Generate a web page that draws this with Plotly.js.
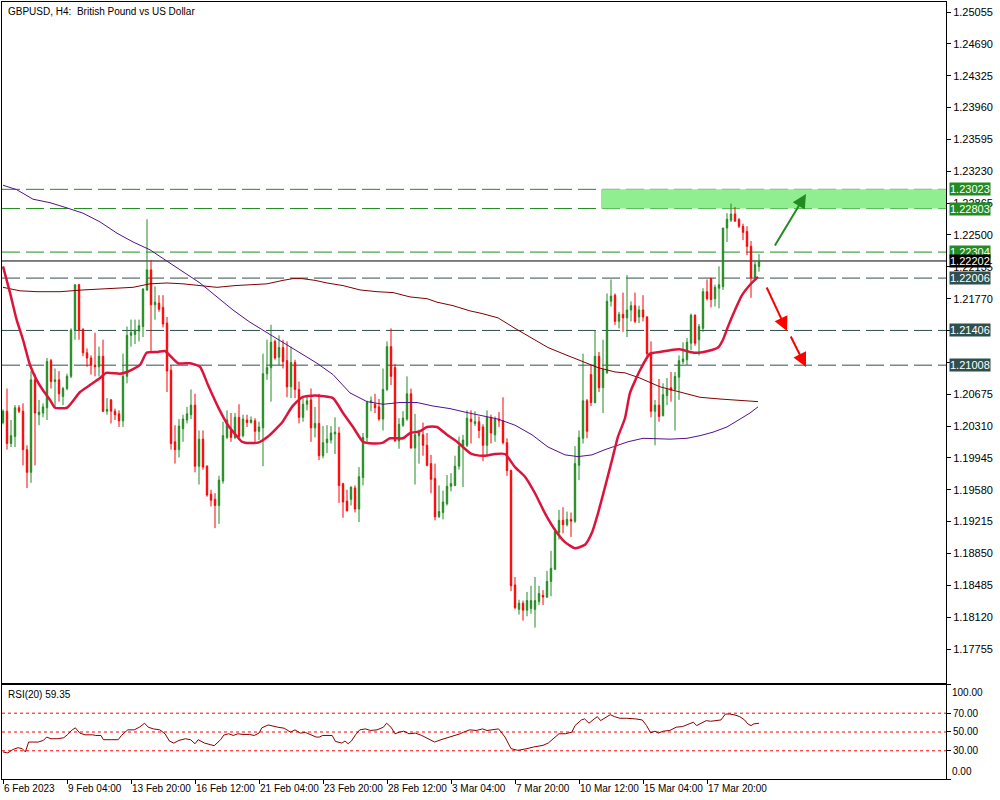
<!DOCTYPE html>
<html><head><meta charset="utf-8">
<script src="https://cdn.plot.ly/plotly-3.0.1.min.js"></script>
<style>html,body{margin:0;padding:0;background:#fff}#chart{width:1000px;height:800px}</style>
</head><body><div id="chart"></div>
<script>
// ---- Candles (H4 bars, left to right) ----
const opens=[1.2035,1.2048,1.2011,1.2019,1.2052,1.2048,1.2004,1.1978,1.2084,1.2044,1.2046,1.2052,1.2106,1.2082,1.2084,1.2065,1.2074,1.2088,1.2141,1.2193,1.2142,1.2115,1.2109,1.2101,1.2099,1.2111,1.2048,1.2061,1.2048,1.2045,1.2037,1.2088,1.2135,1.2136,1.2140,1.2145,1.2187,1.2210,1.2170,1.2172,1.2167,1.2149,1.2095,1.2013,1.2004,1.2028,1.2038,1.2044,1.2055,1.1985,1.2016,1.1985,1.1953,1.1947,1.1940,1.1968,1.2018,1.2026,1.2018,1.2041,1.2020,1.2038,1.2035,1.2037,1.2025,1.2029,1.2091,1.2098,1.2128,1.2110,1.2121,1.2106,1.2076,1.2104,1.2073,1.2041,1.2056,1.2061,1.2029,1.2034,1.1997,1.2012,1.2015,1.2022,1.2023,1.1965,1.1945,1.1947,1.1960,1.1936,1.1972,1.2018,1.2058,1.2056,1.2053,1.2039,1.2073,1.2122,1.2098,1.2014,1.2032,1.2039,1.2068,1.2006,1.2020,1.2021,1.2009,1.1988,1.1971,1.1927,1.1932,1.1942,1.1962,1.1963,1.1985,1.2007,1.2009,1.2039,1.2034,1.2036,1.2030,1.2009,1.2041,1.2021,1.2039,1.2037,1.2012,1.1980,1.1849,1.1821,1.1828,1.1820,1.1822,1.1821,1.1830,1.1837,1.1835,1.1853,1.1867,1.1909,1.1923,1.1918,1.1924,1.1922,1.1986,1.2017,1.2060,1.2090,1.2058,1.2111,1.2075,1.2092,1.2174,1.2181,1.2151,1.2159,1.2155,1.2164,1.2169,1.2156,1.2164,1.2156,1.2114,1.2048,1.2055,1.2043,1.2066,1.2075,1.2073,1.2087,1.2105,1.2107,1.2126,1.2158,1.2130,1.2143,1.2185,1.2200,1.2177,1.2189,1.2191,1.2258,1.2267,1.2274,1.2268,1.2260,1.2254,1.2237,1.2201,1.2214];
const highs=[1.2050,1.2074,1.2038,1.2055,1.2055,1.2057,1.2009,1.2094,1.2091,1.2061,1.2057,1.2109,1.2108,1.2097,1.2094,1.2076,1.2091,1.2143,1.2193,1.2194,1.2143,1.2120,1.2112,1.2138,1.2122,1.2130,1.2063,1.2062,1.2051,1.2049,1.2114,1.2145,1.2153,1.2153,1.2153,1.2189,1.2268,1.2221,1.2191,1.2181,1.2181,1.2156,1.2101,1.2032,1.2039,1.2044,1.2053,1.2073,1.2068,1.2026,1.2026,1.1986,1.1958,1.1954,1.1974,1.2036,1.2049,1.2046,1.2046,1.2056,1.2044,1.2044,1.2042,1.2040,1.2036,1.2114,1.2130,1.2147,1.2130,1.2135,1.2130,1.2128,1.2122,1.2107,1.2082,1.2065,1.2065,1.2074,1.2053,1.2068,1.2031,1.2032,1.2031,1.2041,1.2030,1.1966,1.1958,1.1962,1.1963,1.1984,1.2023,1.2060,1.2065,1.2068,1.2062,1.2097,1.2128,1.2143,1.2102,1.2040,1.2048,1.2088,1.2074,1.2045,1.2027,1.2035,1.2023,1.1998,1.1988,1.1963,1.1957,1.1975,1.1977,1.1997,1.2019,1.2021,1.2049,1.2049,1.2048,1.2042,1.2033,1.2049,1.2044,1.2042,1.2047,1.2064,1.2017,1.1981,1.1858,1.1832,1.1831,1.1841,1.1848,1.1858,1.1848,1.1843,1.1865,1.1888,1.1914,1.1935,1.1938,1.1933,1.1932,1.2008,1.2026,1.2114,1.2062,1.2101,1.2141,1.2116,1.2130,1.2183,1.2199,1.2183,1.2162,1.2184,1.2204,1.2174,1.2184,1.2169,1.2181,1.2157,1.2128,1.2061,1.2085,1.2080,1.2086,1.2093,1.2093,1.2112,1.2127,1.2132,1.2160,1.2159,1.2148,1.2189,1.2199,1.2201,1.2193,1.2214,1.2258,1.2275,1.2286,1.2282,1.2269,1.2263,1.2260,1.2243,1.2221,1.2228];
const lows=[1.2033,1.2004,1.2007,1.2007,1.2046,1.1986,1.1960,1.1966,1.1986,1.2032,1.2041,1.2038,1.2074,1.2053,1.2059,1.2055,1.2072,1.2086,1.2130,1.2130,1.2111,1.2099,1.2090,1.2088,1.2088,1.2047,1.2044,1.2034,1.2038,1.2030,1.2030,1.2080,1.2122,1.2125,1.2128,1.2133,1.2186,1.2115,1.2153,1.2162,1.2144,1.2070,1.2004,1.1988,1.1995,1.2013,1.2034,1.2039,1.1978,1.1964,1.1981,1.1950,1.1939,1.1914,1.1919,1.1965,1.2016,1.2013,1.2016,1.2015,1.2018,1.2030,1.2034,1.2013,1.2015,1.1985,1.2084,1.2059,1.2107,1.2101,1.2097,1.2064,1.2063,1.2063,1.2034,1.2036,1.2049,1.2013,1.2018,1.1992,1.1994,1.2000,1.2011,1.1999,1.1943,1.1926,1.1933,1.1940,1.1932,1.1921,1.1963,1.2011,1.2048,1.2046,1.2037,1.2026,1.2071,1.2078,1.2013,1.2005,1.2030,1.2037,1.2005,1.1964,1.1988,1.1997,1.1985,1.1954,1.1923,1.1926,1.1924,1.1940,1.1956,1.1962,1.1981,1.1961,1.2007,1.2011,1.2031,1.2017,1.1991,1.1997,1.2011,1.2013,1.2030,1.2010,1.1974,1.1842,1.1821,1.1815,1.1808,1.1813,1.1816,1.1800,1.1826,1.1826,1.1834,1.1836,1.1866,1.1901,1.1908,1.1916,1.1904,1.1920,1.1969,1.2011,1.2017,1.2054,1.2057,1.2070,1.2046,1.2091,1.2168,1.2147,1.2143,1.2139,1.2133,1.2151,1.2149,1.2149,1.2151,1.2111,1.2041,1.2009,1.2036,1.2042,1.2055,1.2059,1.2026,1.2061,1.2102,1.2101,1.2118,1.2123,1.2112,1.2139,1.2175,1.2167,1.2168,1.2166,1.2187,1.2242,1.2265,1.2265,1.2258,1.2244,1.2227,1.2178,1.2198,1.2208];
const closes=[1.2048,1.2011,1.2020,1.2052,1.2048,1.2004,1.1978,1.2084,1.2046,1.2047,1.2053,1.2105,1.2082,1.2084,1.2068,1.2074,1.2088,1.2141,1.2193,1.2141,1.2115,1.2109,1.2101,1.2099,1.2111,1.2048,1.2050,1.2048,1.2044,1.2037,1.2088,1.2135,1.2138,1.2141,1.2146,1.2188,1.2210,1.2170,1.2173,1.2165,1.2148,1.2094,1.2011,1.2004,1.2031,1.2039,1.2045,1.2055,1.1985,1.2016,1.1984,1.1952,1.1946,1.1940,1.1969,1.2020,1.2038,1.2018,1.2041,1.2019,1.2039,1.2035,1.2038,1.2025,1.2030,1.2091,1.2098,1.2127,1.2109,1.2121,1.2105,1.2076,1.2104,1.2073,1.2041,1.2056,1.2060,1.2029,1.2034,1.1997,1.2012,1.2016,1.2023,1.2024,1.1963,1.1944,1.1934,1.1961,1.1936,1.1973,1.2018,1.2058,1.2060,1.2052,1.2039,1.2073,1.2122,1.2088,1.2014,1.2033,1.2040,1.2068,1.2006,1.2021,1.2023,1.2009,1.1986,1.1970,1.1927,1.1933,1.1944,1.1962,1.1965,1.1985,1.2008,1.2015,1.2040,1.2036,1.2036,1.2026,1.2009,1.2041,1.2023,1.2039,1.2037,1.2012,1.1980,1.1848,1.1823,1.1828,1.1820,1.1831,1.1831,1.1831,1.1839,1.1835,1.1853,1.1868,1.1910,1.1923,1.1918,1.1924,1.1922,1.1988,1.2018,1.2060,1.2025,1.2058,1.2111,1.2075,1.2096,1.2174,1.2180,1.2151,1.2159,1.2155,1.2164,1.2169,1.2151,1.2164,1.2156,1.2114,1.2048,1.2055,1.2042,1.2067,1.2073,1.2072,1.2088,1.2106,1.2108,1.2127,1.2158,1.2126,1.2145,1.2185,1.2177,1.2176,1.2190,1.2193,1.2258,1.2268,1.2274,1.2266,1.2260,1.2253,1.2237,1.2201,1.2216,1.2220];

// ---- Moving averages, read at bar positions ----
const ma1Bars=[0,1.75,3.4,5,6.75,8.4,10,11.75,13,16,19.25,21.75,24.25,25.75,29.25,31,34.25,35.9,38.75,40.5,43.75,46.75,49.25,51.25,53.75,56.25,59.75,60.5,63.75,66.25,69.75,72.25,74.75,78,82.5,85,87.5,90,92.5,95,96.75,100,101.75,104.25,106,108.5,111,113.5,116.75,118,120.5,123,125.5,128,130.5,133,135.5,138,140.5,143,145.5,147.25,148.75,150.5,152.25,153.75,155.5,156.75,159.25,161.75,164.25,166.75,169.25,171.75,173.75,176.25,178.75,180,181.25,183,184.75,186.75,188.75];
const ma1Vals=[1.2214,1.2184,1.2153,1.2130,1.2101,1.2084,1.2072,1.2061,1.2052,1.2052,1.2070,1.2078,1.2086,1.2092,1.2091,1.2093,1.2101,1.2115,1.2116,1.2117,1.2103,1.2103,1.2099,1.2078,1.2053,1.2032,1.2013,1.2012,1.2012,1.2019,1.2035,1.2053,1.2064,1.2066,1.2063,1.2046,1.2030,1.2013,1.2011,1.2012,1.2017,1.2017,1.2023,1.2025,1.2030,1.2030,1.2021,1.2013,1.2000,1.1998,1.1997,1.1999,1.1999,1.1984,1.1973,1.1954,1.1931,1.1912,1.1898,1.1891,1.1895,1.1909,1.1931,1.1961,1.1992,1.2019,1.2040,1.2069,1.2095,1.2114,1.2116,1.2118,1.2119,1.2116,1.2115,1.2117,1.2121,1.2130,1.2145,1.2164,1.2181,1.2193,1.2202];
const ma2Bars=[0,3.4,7.5,11.75,16,20,24.25,28.5,32.5,36.75,41,45,49.25,53.5,57.5,61.75,66,70,74.25,78.5,82.5,86.75,91,95,99.25,103.5,107.5,111.75,115.5,123.75,128,132.25,136.25,140.5,143.75,147.25,150.5,153,156.25,160,166.75,171,174.25,177.5,181,184.25,186.75,188.75];
const ma2Vals=[1.2307,1.2302,1.2291,1.2287,1.2281,1.2275,1.2265,1.2252,1.2242,1.2233,1.2220,1.2208,1.2195,1.2179,1.2164,1.2150,1.2138,1.2126,1.2114,1.2103,1.2090,1.2069,1.2059,1.2056,1.2058,1.2058,1.2054,1.2051,1.2047,1.2039,1.2032,1.2021,1.2007,1.1998,1.1996,1.1998,1.2004,1.2008,1.2013,1.2017,1.2016,1.2017,1.2020,1.2024,1.2030,1.2039,1.2046,1.2053];
const ma3Bars=[0,4.25,8.5,14.25,20,24.25,28.5,32.5,36.75,41,45,49.25,53.5,58,61.75,66,70,72.5,74.75,78,81,85,89.25,93.5,97.5,101.75,106,108.5,112.5,116.75,119.75,123.75,128,132.25,136.25,140.5,144.75,148.75,153,155.5,159.25,164.25,169.25,174.25,179.25,184.25,188.75];
const ma3Vals=[1.2190,1.2186,1.2185,1.2185,1.2187,1.2188,1.2189,1.2190,1.2194,1.2195,1.2194,1.2192,1.2190,1.2192,1.2193,1.2194,1.2198,1.2200,1.2200,1.2198,1.2195,1.2192,1.2187,1.2185,1.2184,1.2179,1.2177,1.2173,1.2169,1.2163,1.2160,1.2155,1.2143,1.2132,1.2121,1.2113,1.2105,1.2098,1.2093,1.2092,1.2086,1.2076,1.2070,1.2064,1.2062,1.2060,1.2059];

// ---- RSI(20) ----
const rsiBars=[0,1.2,2.4,3.7,4.8,5.6,6.4,7.6,8.8,10.1,10.9,12,13.6,15.2,16.2,17.3,18.1,19.2,20.5,22.4,23.2,24.5,25.1,27.2,28.8,29.6,31.2,32.8,34.1,35.4,36.3,37.6,39.2,40.5,41.6,42.7,44,45.6,46.9,48,48.8,50.4,52,52.8,54.4,55.2,56.4,57.6,58.7,60,61.6,62.8,64,64.7,66.3,67.6,68.7,70.3,71.9,73,74.3,75.6,76.9,78.3,79.1,79.9,81.5,82.3,83.1,84.7,85.5,86.3,87.1,88.2,89.2,90.6,91.9,93.5,95.1,95.9,97,98,99.1,100.2,101.5,103.1,104.7,106.6,107.9,109.5,111.1,112.7,114.3,115.1,116.7,118.3,119.9,121,122.3,123.9,125.5,127,128.7,129.9,131,132.6,134.2,135,136.3,137.6,139,140.6,142.2,143,144.6,145.4,146.5,147.8,148.6,149.4,150.7,151.8,152.9,154.2,155.8,157.4,158.2,159.8,160.9,161.9,163,163.8,165.1,166.7,168.3,169.9,171.5,172.6,173.4,175,175.8,176.9,178.2,179.5,180.6,181.7,183,184.2,185.4,186.2,187,187.7,189];
const rsiVals=[28.8,27.7,31.2,33.3,32.3,28.8,39.3,39.3,39.3,41.1,44.6,42.8,42.8,43.9,47.4,52.3,54.4,48.8,47,47,46.3,46.3,41.8,41.8,41.8,46.3,52.3,52.3,55.1,59.3,55.1,53.3,52.3,48.1,40.4,38.2,41.1,42.8,41.8,37.5,41.8,38.2,36.5,35.4,41.8,46.7,48.1,46.3,48.1,47.4,47.4,46.3,48.8,54.4,57.5,55.8,55.1,54,49.8,52.3,48.8,49.5,47.4,44.6,44.6,46.3,46.3,46.3,40,38.2,40.4,37.5,40.4,47.4,52.3,53.3,51.6,52.3,55.1,59.3,55.1,48.1,49.8,50.9,48.1,48.8,46.3,41.8,39.3,41.8,43.9,45.3,48.1,49.8,52.3,51.6,53.3,51.6,52.3,53.3,44.6,32.3,30.5,31.2,32.3,34,34.7,35.8,38.2,42.8,48.1,48.1,49.8,56.8,62.8,63.9,59.3,63.9,66.3,62.1,65.6,68.4,66.3,64.6,64.6,64.6,63.9,62.8,56.8,49.1,50.9,48.8,50.9,51.6,55.1,55.8,58.6,60.4,56.8,60.4,62.1,61.4,62.1,62.8,69.1,69.1,68.1,66.3,62.8,58.6,56.8,58.6,59.35];
const rsiLevels=[70,50,30];
const rsiLast=59.35;

// ---- Time axis labels ----
const timeLabels=["6 Feb 2023","9 Feb 04:00","13 Feb 20:00","16 Feb 12:00","21 Feb 04:00","23 Feb 20:00","28 Feb 12:00","3 Mar 04:00","7 Mar 20:00","10 Mar 12:00","15 Mar 04:00","17 Mar 20:00"];
const barsPerLabel=16;

// ---- Levels ----
const resistanceLevels=[1.23023,1.22803,1.22304];
const supportLevels=[1.22006,1.21406,1.21008];
const zoneTop=1.23023, zoneBottom=1.22803, zoneStartBar=149.5;
const currentPrice=1.22202;
const priceTick0=1.25055, priceStep=0.00365, priceTickCount=21;

const bars=opens.map((_,i)=>i);
const XMIN=-0.25, XMAX=235.75;
const GREEN='#228B22', RED='#FF0000', SLATE='#2F4F4F';
const FONT='"Liberation Sans", Arial, sans-serif';

const priceTicks=[];
for(let k=0;k<priceTickCount;k++) priceTicks.push(+(priceTick0-k*priceStep).toFixed(5));
const taggedLevels=resistanceLevels.concat(supportLevels);
const priceTickText=priceTicks.map(v=>taggedLevels.some(l=>Math.abs(l-v)<0.0004)?'':v.toFixed(5));

const traces=[
  {type:'candlestick',x:bars,open:opens,high:highs,low:lows,close:closes,xaxis:'x',yaxis:'y',
   increasing:{line:{color:GREEN,width:1},fillcolor:GREEN},
   decreasing:{line:{color:RED,width:1},fillcolor:RED},
   whiskerwidth:0,hoverinfo:'skip',showlegend:false},
  {type:'scatter',mode:'lines',x:ma3Bars,y:ma3Vals,xaxis:'x',yaxis:'y',line:{color:'#800000',width:1},hoverinfo:'skip'},
  {type:'scatter',mode:'lines',x:ma2Bars,y:ma2Vals,xaxis:'x',yaxis:'y',line:{color:'#55108E',width:1},hoverinfo:'skip'},
  {type:'scatter',mode:'lines',x:ma1Bars,y:ma1Vals,xaxis:'x',yaxis:'y',line:{color:'#DC143C',width:2.5,shape:'spline',smoothing:0.5},hoverinfo:'skip'},
  {type:'scatter',mode:'lines',x:rsiBars,y:rsiVals,xaxis:'x2',yaxis:'y2',line:{color:'#8B0000',width:1},hoverinfo:'skip'}
];

const shapes=[
  {type:'rect',xref:'x',yref:'y',x0:zoneStartBar,x1:XMAX,y0:zoneBottom,y1:zoneTop,fillcolor:'#90EE90',line:{width:0},layer:'below'}
];
resistanceLevels.forEach(v=>shapes.push({type:'line',xref:'paper',yref:'y',x0:0,x1:1,y0:v,y1:v,line:{color:GREEN,width:1,dash:'18px,6px'},layer:'below'}));
supportLevels.forEach(v=>shapes.push({type:'line',xref:'paper',yref:'y',x0:0,x1:1,y0:v,y1:v,line:{color:SLATE,width:1,dash:'18px,6px'},layer:'below'}));
shapes.push({type:'line',xref:'paper',yref:'y',x0:0,x1:1,y0:currentPrice,y1:currentPrice,line:{color:'#000',width:1},layer:'below'});
rsiLevels.forEach(v=>shapes.push({type:'line',xref:'paper',yref:'y2',x0:0,x1:1,y0:v,y1:v,line:{color:RED,width:1,dash:'3px,3px'},layer:'below'}));

const annotations=[
  {xref:'paper',yref:'paper',x:0,y:1,xanchor:'left',yanchor:'top',xshift:4,yshift:-2,showarrow:false,
   text:'GBPUSD, H4:\u00A0 British Pound vs US Dollar',font:{family:FONT,size:10,color:'#000'}},
  {xref:'paper',yref:'y2 domain',x:0,y:1,xanchor:'left',yanchor:'top',xshift:4,yshift:-2,showarrow:false,
   text:'RSI(20) '+rsiLast.toFixed(2),font:{family:FONT,size:10,color:'#000'}},
  {xref:'paper',yref:'y2',x:1,y:100,xanchor:'left',yanchor:'top',xshift:4,showarrow:false,text:'100.00',font:{family:FONT,size:10,color:'#000'}},
  {xref:'paper',yref:'y2',x:1,y:0,xanchor:'left',yanchor:'bottom',xshift:4,showarrow:false,text:'0.00',font:{family:FONT,size:10,color:'#000'}}
];
function tag(v,bg){
  annotations.push({xref:'paper',yref:'y',x:1,y:v,xanchor:'left',yanchor:'middle',xshift:3,showarrow:false,
    text:v.toFixed(5),bgcolor:bg,borderpad:0,font:{family:FONT,size:11,color:'#fff'}});
}
resistanceLevels.forEach(v=>tag(v,GREEN));
supportLevels.forEach(v=>tag(v,SLATE));
tag(currentPrice,'#000');

// scenario arrows
function arrow(x0,y0,x1,y1,color){
  annotations.push({xref:'x',yref:'y',axref:'x',ayref:'y',x:x1,y:y1,ax:x0,ay:y0,text:'',showarrow:true,
    arrowhead:2,arrowsize:1.4,arrowwidth:2,arrowcolor:color});
}
arrow(192.75,1.22362,200.75,1.22970,GREEN);
arrow(190.75,1.21915,196,1.21400,RED);
arrow(196.75,1.21354,200.75,1.20987,RED);

const layout={
  width:1000,height:800,margin:{l:2,r:54,t:2,b:21},
  paper_bgcolor:'#fff',plot_bgcolor:'#fff',showlegend:false,
  font:{family:FONT,size:10,color:'#000'},
  boxgap:0.5,
  xaxis:{domain:[0,1],anchor:'y',range:[XMIN,XMAX],showgrid:false,zeroline:false,showticklabels:false,ticks:'',
    showline:true,linecolor:'#000',linewidth:1,mirror:true,rangeslider:{visible:false},fixedrange:true},
  yaxis:{domain:[0.1236,1],anchor:'x',side:'right',range:[1.17366,1.2517],tickmode:'array',tickvals:priceTicks,ticktext:priceTickText,
    ticks:'outside',ticklen:4,tickcolor:'#000',showgrid:false,zeroline:false,
    showline:true,linecolor:'#000',linewidth:1,mirror:true,tickfont:{family:FONT,size:11,color:'#000'},fixedrange:true},
  xaxis2:{domain:[0,1],anchor:'y2',range:[XMIN,XMAX],tickmode:'array',
    tickvals:timeLabels.map((_,k)=>k*barsPerLabel),ticktext:timeLabels,ticks:'outside',ticklen:4,tickcolor:'#000',
    tickangle:0,ticklabelposition:'outside right',showgrid:false,zeroline:false,showline:true,linecolor:'#000',linewidth:1,mirror:true,
    tickfont:{family:FONT,size:10,color:'#000'},fixedrange:true},
  yaxis2:{domain:[0,0.121],anchor:'x2',side:'right',range:[0,100],tickmode:'array',tickvals:[0,30,50,70,100],
    ticktext:['','30.00','50.00','70.00',''],ticks:'outside',ticklen:4,tickcolor:'#000',showgrid:false,zeroline:false,
    showline:true,linecolor:'#000',linewidth:1,mirror:true,tickfont:{family:FONT,size:10,color:'#000'},fixedrange:true},
  shapes:shapes,annotations:annotations
};
Plotly.newPlot('chart',traces,layout,{staticPlot:true,displayModeBar:false});
</script></body></html>
